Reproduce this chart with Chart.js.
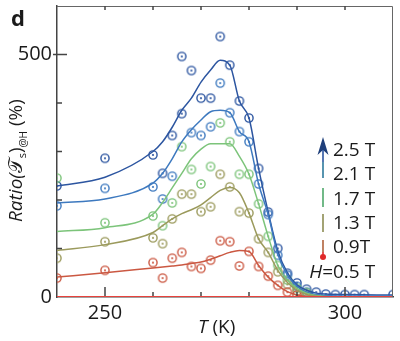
<!DOCTYPE html>
<html>
<head>
<meta charset="utf-8">
<script src="https://cdn.jsdelivr.net/npm/chart.js@4.4.1/dist/chart.umd.min.js"></script>
<style>
  html, body { margin: 0; padding: 0; background: #fff; }
  #wrap { width: 400px; height: 341px; }
</style>
</head>
<body>
<div id="wrap"><canvas id="c"></canvas></div>
<script>
// field labels (legend, top to bottom)
const fields = ['2.5 T', '2.1 T', '1.7 T', '1.3 T', '0.9T', '0.5 T'];
const colors = ['#2c55a0', '#3d79bf', '#7cc47a', '#9b9a5c', '#cb5842', '#e8423c'];

// smoothed curves, sampled at these temperatures (K)
const fitT = [240, 250, 260, 262, 264, 266, 268, 270, 272, 274, 276, 278, 280, 282, 284, 286, 288, 290, 292, 294, 296, 300, 310];
const fit25 = [229, 247, 300, 320, 350, 385, 410, 443, 468, 488, 478, 404, 369, 265, 175, 95, 50, 25, 14, 8, 6, 5, 4];
const fit21 = [194, 202, 235, 255, 285, 320, 345, 365, 382, 385, 380, 341, 320, 233, 170, 88, 45, 22, 10, 5, 3, 2, 2];
const fit17 = [135, 143, 171, 195, 225, 255, 285, 305, 316, 316, 316, 290, 253, 192, 125, 65, 35, 18, 8, 3, 1, 0, 0];
const fit13 = [96, 108, 133, 147, 161, 172, 180, 190, 205, 220, 226, 215, 173, 120, 92, 55, 30, 14, 5, 2, 0, 0, 0];
const fit09 = [41, 50, 60, 62, 64, 66, 69, 72, 78, 85, 92, 96, 94, 65, 41, 24, 11, 4, 1, 0, 0, 0, 0];
const fit05T = [240, 310];
const fit05 = [0, 0];

// measured points [T, ratio %]
const dots25 = [[240,229],[250,286],[260,293],[262,255],[264,333],[266,378],[266,496],[268,467],[270,410],[272,410],[274,537],[276,478],[278,404],[280,369],[282,265],[284,175],[286,100],[288,49],[290,29],[292,16],[294,10],[296,6],[298,5],[300,5],[302,5],[304,5],[310,5]];
const dots21 = [[240,188],[250,224],[260,227],[262,202],[264,249],[268,339],[270,333],[272,351],[274,441],[276,380],[278,341],[280,320],[282,233],[284,170],[286,86],[288,45],[290,22],[292,10]];
const dots17 = [[240,245],[250,153],[260,167],[262,147],[264,194],[266,310],[268,263],[270,233],[272,269],[274,359],[276,320],[278,253],[280,253],[282,192],[284,125],[286,65],[288,35],[290,18],[292,9]];
const dots13 = [[240,80],[250,114],[260,122],[262,110],[264,161],[266,212],[268,212],[270,176],[272,186],[274,253],[276,227],[278,176],[280,173],[282,120],[284,92],[286,52],[288,26],[290,12],[292,5]];
const dots09 = [[240,39],[250,55],[260,71],[262,39],[264,80],[266,92],[268,63],[270,59],[272,76],[274,116],[276,114],[278,64],[280,94],[282,63],[284,43],[286,24],[288,10],[290,4]];

const xTickLabels = [250, 300];
const yTickLabels = [0, 500];

function ring(color) {
  const c = document.createElement('canvas');
  c.width = 12; c.height = 12;
  const g = c.getContext('2d');
  g.strokeStyle = color; g.lineWidth = 1.4;
  g.beginPath(); g.arc(6, 6, 4.1, 0, Math.PI * 2); g.stroke();
  g.fillStyle = color;
  g.beginPath(); g.arc(6, 6, 1.1, 0, Math.PI * 2); g.fill();
  return c;
}

function curve(xs, ys, color, w) {
  return {
    type: 'line',
    data: xs.map((t, i) => ({x: t, y: ys[i]})),
    borderColor: color, borderWidth: w,
    pointRadius: 0, fill: false,
    cubicInterpolationMode: 'monotone'
  };
}

function dots(pts, color) {
  return {
    type: 'line',
    data: pts.map(p => ({x: p[0], y: p[1]})),
    showLine: false,
    pointStyle: ring(color),
    pointRadius: 5,
    clip: 0
  };
}

const FONT = '"Open Sans", "Liberation Sans", sans-serif';

// inward tick marks, frame, titles and the field legend
const decor = {
  id: 'decor',
  afterDraw(chart) {
    const ctx = chart.ctx, a = chart.chartArea;
    const xs = chart.scales.x, ys = chart.scales.y;
    ctx.save();
    // frame top / right
    ctx.strokeStyle = '#666'; ctx.lineWidth = 1;
    ctx.beginPath();
    ctx.moveTo(a.left, a.top + 0.5); ctx.lineTo(a.right - 0.5, a.top + 0.5); ctx.lineTo(a.right - 0.5, a.bottom);
    ctx.stroke();
    // ticks
    ctx.strokeStyle = '#444'; ctx.lineWidth = 1.5;
    ctx.beginPath();
    for (let v = 100; v <= 500; v += 100) {
      const y = ys.getPixelForValue(v);
      ctx.moveTo(v === 500 ? a.left - 4 : a.left, y);
      ctx.lineTo(a.left + (v === 500 ? 10 : 5), y);
    }
    for (let t = 250; t <= 300; t += 10) {
      const x = xs.getPixelForValue(t);
      const major = t === 250 || t === 300;
      ctx.moveTo(x, a.bottom - 1);
      ctx.lineTo(x, a.bottom - (major ? 10 : 5));
      ctx.moveTo(x, a.top);
      ctx.lineTo(x, a.top + 4);
    }
    ctx.stroke();

    ctx.fillStyle = '#1a1a1a';
    ctx.textBaseline = 'alphabetic';
    ctx.textAlign = 'left';
    // panel letter
    ctx.font = 'bold 22px ' + FONT;
    ctx.fillText('d', 11, 26);
    // x title
    ctx.font = 'italic 19px ' + FONT;
    ctx.fillText('T', 198, 333);
    let w = ctx.measureText('T').width;
    ctx.font = '19px ' + FONT;
    ctx.fillText(' (K)', 198 + w, 333);

    // y title (rotated)
    ctx.save();
    ctx.translate(22, 222);
    ctx.rotate(-Math.PI / 2);
    let px = 0;
    const part = (txt, font, dy) => {
      ctx.font = font;
      ctx.fillText(txt, px, dy);
      px += ctx.measureText(txt).width;
    };
    part('Ratio(', 'italic 19px ' + FONT, 0);
    part('\u{1D4AF}', '19px "DejaVu Sans", serif', 0);
    part('s', '11px ' + FONT, 4);
    part(')', '19px ' + FONT, 0);
    part('@H', '10px ' + FONT, 5);
    part(' (%)', '19px ' + FONT, 0);
    ctx.restore();

    // legend arrow + dashed colour bar
    const lx = 323;
    ctx.fillStyle = '#1f3f7a';
    ctx.beginPath();
    ctx.moveTo(lx, 137); ctx.lineTo(lx + 5.5, 155); ctx.lineTo(lx, 150); ctx.lineTo(lx - 5.5, 155);
    ctx.closePath(); ctx.fill();
    const segs = [[150, 162, '#2c55a0'], [162, 178, '#2d7a9c'], [188, 207, '#4ea86a'], [214, 232, '#8c8c52'], [240, 252, '#b0623c'], [252, 256, '#e02a2a']];
    ctx.lineWidth = 1.6;
    for (const s of segs) {
      ctx.strokeStyle = s[2];
      ctx.beginPath(); ctx.moveTo(lx, s[0]); ctx.lineTo(lx, s[1]); ctx.stroke();
    }
    ctx.fillStyle = '#e02a2a';
    ctx.beginPath(); ctx.arc(lx, 257, 3, 0, Math.PI * 2); ctx.fill();

    ctx.fillStyle = '#1a1a1a';
    ctx.font = '19px ' + FONT;
    fields.forEach((f, i) => {
      ctx.fillText(f, 333, 156 + i * 24.3);
    });
    ctx.textAlign = 'right';
    ctx.font = '19px ' + FONT;
    const eqW = ctx.measureText('=').width;
    ctx.fillText('=', 333, 156 + 5 * 24.3);
    ctx.font = 'italic 19px ' + FONT;
    ctx.fillText('H', 333 - eqW, 156 + 5 * 24.3);
    ctx.restore();
  }
};

new Chart(document.getElementById('c'), {
  type: 'line',
  data: {
    datasets: [
      curve(fit05T, fit05, colors[5], 2.2),
      curve(fitT, fit09, colors[4], 1.5),
      curve(fitT, fit13, colors[3], 1.5),
      curve(fitT, fit17, colors[2], 1.5),
      curve(fitT, fit21, colors[1], 1.5),
      curve(fitT, fit25, colors[0], 1.5),
      dots(dots09, colors[4]),
      dots(dots13, colors[3]),
      dots(dots17, colors[2]),
      dots(dots21, colors[1]),
      dots(dots25, colors[0])
    ]
  },
  options: {
    responsive: true,
    maintainAspectRatio: false,
    animation: false,
    layout: { padding: { left: 0, right: 7, top: 3, bottom: 0 } },
    plugins: { legend: { display: false }, tooltip: { enabled: false } },
    scales: {
      x: {
        type: 'linear', min: 240, max: 310,
        grid: { display: false, drawTicks: false },
        border: { display: true, color: '#444', width: 1.5 },
        ticks: {
          stepSize: 10, padding: 4, color: '#1a1a1a',
          font: { family: FONT, size: 20 },
          maxRotation: 0, autoSkip: false,
          callback: v => xTickLabels.includes(v) ? String(v) : ''
        },
        afterFit(s) { s.height = 44; s.paddingLeft = 0; s.paddingRight = 0; }
      },
      y: {
        min: 0, max: 600,
        grid: { display: false, drawTicks: false },
        border: { display: true, color: '#444', width: 1.5 },
        ticks: {
          stepSize: 100, padding: 5, color: '#1a1a1a',
          font: { family: FONT, size: 20 },
          callback: v => yTickLabels.includes(v) ? String(v) : ''
        },
        afterFit(s) { s.width = 57; s.paddingTop = 0; s.paddingBottom = 0; }
      }
    }
  },
  plugins: [decor]
});
</script>
</body>
</html>
